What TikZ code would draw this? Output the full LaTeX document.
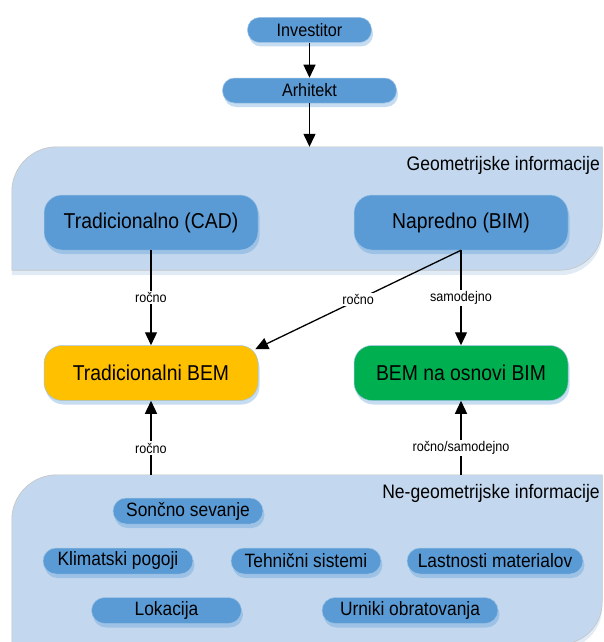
\documentclass[tikz,border=0pt]{standalone}
\usepackage{fontspec}
\setmainfont{Liberation Sans}[FakeStretch=0.9]
\usepackage{tikz}
\usetikzlibrary{arrows.meta,shapes,positioning,shadows,calc}

\definecolor{boxblue}{HTML}{5B9BD5}
\definecolor{panelblue}{HTML}{C3D8EE}
\definecolor{bemorange}{HTML}{FFC000}
\definecolor{bemgreen}{HTML}{00B050}
\definecolor{edgegray}{HTML}{C4C4C4}

\begin{document}
\begin{tikzpicture}[x=1pt, y=-1pt,
    boxshadow/.style={drop shadow={shadow xshift=1.5pt, shadow yshift=-4pt, fill=boxblue, opacity=0.35}},
    role/.style={rectangle, draw=boxblue!60!white, line width=0.5pt, fill=boxblue, rounded corners=12pt, minimum height=25pt, inner sep=0pt, font=\fontsize{18}{21}\selectfont, boxshadow},
    method/.style={rectangle, draw=boxblue!60!white, line width=0.5pt, fill=boxblue, rounded corners=18pt, minimum width=214pt, minimum height=55pt, inner sep=0pt, font=\fontsize{21.5}{25}\selectfont, boxshadow},
    factor/.style={rectangle, draw=boxblue!60!white, line width=0.5pt, fill=boxblue, rounded corners=13pt, minimum width=150pt, minimum height=26pt, inner sep=0pt, font=\fontsize{19.3}{22}\selectfont, boxshadow},
    panel/.style={fill=panelblue, draw=edgegray, line width=0.6pt, drop shadow={shadow xshift=0pt, shadow yshift=-5pt, fill=panelblue, opacity=0.5}},
    panellabel/.style={anchor=east, inner sep=0pt, font=\fontsize{19.5}{22}\selectfont},
    lbl/.style={fill=white, inner sep=1.5pt, font=\fontsize{14}{16}\selectfont},
    flow/.style={-{Triangle[length=13pt, width=12pt]}, line width=1.3pt}
]
\useasboundingbox (0,0) rectangle (604,642);

% Panels
\node[minimum width=590pt, minimum height=123pt, inner sep=0pt] (geo) at (307,208.5) {};
\node[minimum width=590pt, minimum height=169pt, inner sep=0pt] (neg) at (307,559.5) {};
\path[panel] (geo.south west) [rounded corners=45pt] -- (geo.north west) [sharp corners] -- (geo.north east) [rounded corners=42pt] -- (geo.south east) [sharp corners] -- cycle;
\path[panel] (neg.south west) [rounded corners=45pt] -- (neg.north west) [sharp corners] -- (neg.north east) [rounded corners=42pt] -- (neg.south east) [sharp corners] -- cycle;
\node[panellabel] (geolabel) at (600,165) {Geometrijske informacije};
\node[panellabel] (neglabel) at (600,493) {Ne-geometrijske informacije};

% Roles
\node[role, minimum width=124pt] (investitor) at (309.5,30) {Investitor};
\node[role, minimum width=174pt] (arhitekt) at (309.5,90.5) {Arhitekt};

% Geometric information
\node[method] (cad) at (151,222.5) {Tradicionalno (CAD)};
\node[method] (bim) at (461,222.5) {Napredno (BIM)};

% BEM
\node[method, fill=bemorange] (tradbem) at (151,373) {Tradicionalni BEM};
\node[method, fill=bemgreen] (bimbem) at (461,373) {BEM na osnovi BIM};

% Non-geometric information
\node[factor] (soncno) at (188,511) {Sončno sevanje};
\node[factor] (klima) at (118,561) {Klimatski pogoji};
\node[factor] (tehnicni) at (306,561) {Tehnični sistemi};
\node[factor, minimum width=176pt] (lastnosti) at (495,561) {Lastnosti materialov};
\node[factor] (lokacija) at (166.5,610.5) {Lokacija};
\node[factor, minimum width=176pt] (urniki) at (410,610.5) {Urniki obratovanja};

% Flows
\draw[flow] (investitor) -- (arhitekt);
\draw[flow] (arhitekt) -- (arhitekt |- geo.north);
\draw[flow] (cad) -- node[lbl] {ročno} (tradbem);
\draw[flow] (bim) -- node[lbl] {samodejno} (bimbem);
\draw[flow] (bim.south) -- node[lbl] {ročno} ([xshift=-3pt, yshift=-4pt]tradbem.north east);
\draw[flow] (tradbem |- neg.north) -- node[lbl, pos=0.36] {ročno} (tradbem);
\draw[flow] (bimbem |- neg.north) -- node[lbl, pos=0.36] {ročno/samodejno} (bimbem);

\end{tikzpicture}
\end{document}
